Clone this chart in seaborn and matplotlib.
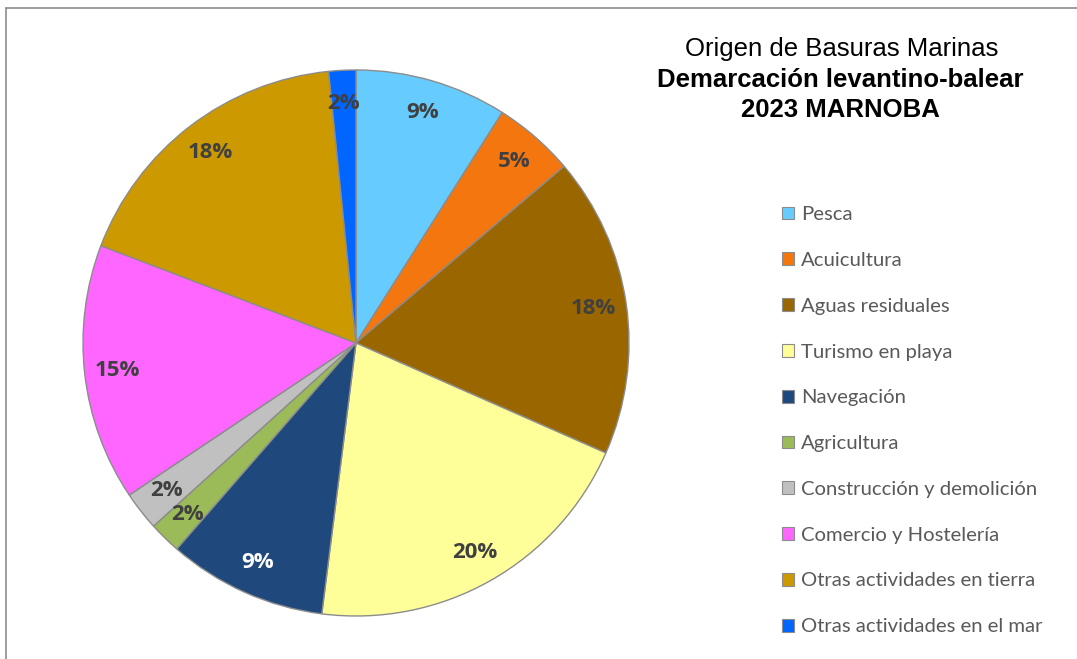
import matplotlib
matplotlib.use("Agg")
import matplotlib.pyplot as plt
import matplotlib.patches as mpatches
from matplotlib.lines import Line2D
import seaborn as sns

# data (percent of items)
categorias = ["Pesca", "Acuicultura", "Aguas residuales", "Turismo en playa",
              "Navegación", "Agricultura", "Construcción y demolición",
              "Comercio y Hostelería", "Otras actividades en tierra",
              "Otras actividades en el mar"]
porcentajes = [9.0, 4.8, 17.8, 20.4, 9.4, 1.9, 2.3, 15.2, 17.6, 1.6]
colores = ["#66CCFF", "#F4760F", "#996600", "#FFFF99", "#1F497D",
           "#9BBB59", "#C0C0C0", "#FF66FF", "#CC9900", "#0066FF"]

sns.set_theme(style="white")
plt.rcParams['font.family'] = ['Open Sans', 'DejaVu Sans']

fig = plt.figure(figsize=(10.77, 6.59), dpi=100)
fig.patch.set_facecolor("white")

# pie axes: centre (356,343) px, radius 273 px
W, H = 1077, 659
cx, cy, r = 356, 343, 273
ax = fig.add_axes([(cx - r) / W, (H - cy - r) / H, 2 * r / W, 2 * r / H])

wedges, texts, autotexts = ax.pie(
    porcentajes, colors=colores, startangle=90, counterclock=False,
    autopct=lambda p: f"{p:.0f}%", pctdistance=0.88,
    wedgeprops=dict(edgecolor="#8C8C8C", linewidth=1.0),
    textprops=dict(fontsize=16, fontweight="bold", color="#404040"))
for i, t in enumerate(autotexts):
    if categorias[i] == "Navegación":
        t.set_color("white")
ax.set_xlim(-1, 1)
ax.set_ylim(-1, 1)
ax.set_aspect("equal")
ax.axis("off")

# title
fig.text(842 / W, 1 - 49 / H, "Origen de Basuras Marinas", ha="center", va="center",
         fontsize=18.5, family="Liberation Sans", color="black")
fig.text(840 / W, 1 - 80 / H, "Demarcación levantino-balear", ha="center", va="center",
         fontsize=18.5, fontweight="bold", family="Liberation Sans", color="black")
fig.text(840 / W, 1 - 110 / H, "2023 MARNOBA", ha="center", va="center",
         fontsize=18.5, fontweight="bold", family="Liberation Sans", color="black")

# legend
handles = [mpatches.Patch(facecolor=c, edgecolor="#8C8C8C", linewidth=0.8) for c in colores]
leg = fig.legend(handles, categorias, loc="upper left",
                 bbox_to_anchor=(772 / W, 1 - 196 / H), frameon=False,
                 fontsize=14.6, labelspacing=1.42, handlelength=0.6,
                 handleheight=0.6, handletextpad=0.35, borderpad=0)
for t in leg.get_texts():
    t.set_color("#595959")
    t.set_family(["Lato", "DejaVu Sans"])

# chart border (top and left visible)
fig.add_artist(Line2D([6 / W, 6 / W], [0, 1 - 8 / H], color="#8C8C8C", linewidth=1.2))
fig.add_artist(Line2D([6 / W, 1], [1 - 8 / H, 1 - 8 / H], color="#8C8C8C", linewidth=1.2))

fig.savefig("out.png", dpi=100)
